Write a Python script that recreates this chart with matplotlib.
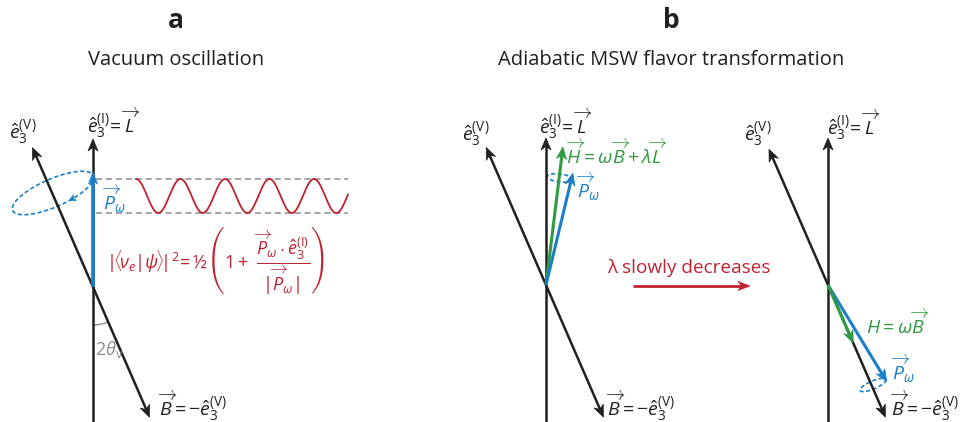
import numpy as np
import matplotlib

matplotlib.use("Agg")
import matplotlib.pyplot as plt
from matplotlib.patches import Polygon

plt.rcParams["font.family"] = ["Open Sans", "DejaVu Sans"]
plt.rcParams["mathtext.fontset"] = "custom"
plt.rcParams["mathtext.rm"] = "Open Sans"
plt.rcParams["mathtext.it"] = "Open Sans:italic"
plt.rcParams["mathtext.bf"] = "Open Sans:bold"

BLACK = "#231f20"
BLUE = "#1a7fc8"
RED = "#c0222f"
GREEN = "#2f9a42"
GRAY = "#8c8c8c"

# vector geometry, angles in degrees clockwise from "up"
mixing_angle = 23.5                 # 2 theta_v between e3(I) and e3(V)
L_len = [148, 147, 147]
e3V_len = [152, 150, 148]
B_len = [142, 144, 144]
H_angle = [None, 7.0, 180 - mixing_angle]
H_len = [None, 139, 63]
P_angle = [0.0, 13.5, 148.7]
P_len = [115, 115, 113]

# vacuum oscillation trace (cos^2 swing of P_w projection)
osc_x_start, osc_x_end = 136, 348
osc_period = 44.5

fig = plt.figure(figsize=(9.71, 4.22), dpi=100)
ax = fig.add_axes([0, 0, 1, 1])
ax.set_xlim(0, 971)
ax.set_ylim(422, 0)
ax.axis("off")


def direction(angle):
    a = np.radians(angle)
    return np.array([np.sin(a), -np.cos(a)])


def arrow(p0, p1, color, lw=1.8, hl=12, hw=5):
    p0, p1 = np.asarray(p0, float), np.asarray(p1, float)
    u = (p1 - p0) / np.hypot(*(p1 - p0))
    n = np.array([-u[1], u[0]])
    back = p1 - u * hl
    notch = p1 - u * hl * 0.7
    ax.plot([p0[0], notch[0]], [p0[1], notch[1]], color=color, lw=lw,
            solid_capstyle="butt", zorder=3)
    ax.add_patch(Polygon([p1, back + n * hw, notch, back - n * hw], closed=True,
                         fc=color, ec=color, lw=0.5, zorder=3))


def ring(c, a, b, tilt, color, head_at=None):
    t = np.linspace(0, 2 * np.pi, 200)
    tr = np.radians(tilt)
    u = np.array([np.cos(tr), -np.sin(tr)])
    v = np.array([np.sin(tr), np.cos(tr)])
    pts = c[None, :] + np.outer(a * np.cos(t), u) + np.outer(b * np.sin(t), v)
    ax.plot(pts[:, 0], pts[:, 1], color=color, lw=1.2, ls=(0, (2.5, 1.5)), zorder=2)
    if head_at is not None:
        th = np.radians(head_at)
        p = c + a * np.cos(th) * u + b * np.sin(th) * v
        d = -a * np.sin(th) * u + b * np.cos(th) * v
        d = d / np.hypot(*d)
        arrow(p - d * 8, p, color, lw=0, hl=7, hw=3.2)


def axes_set(origin, k):
    o = np.asarray(origin, float)
    ax.plot([o[0], o[0]], [422, o[1]], color=BLACK, lw=1.8, zorder=3)
    arrow(o, o + direction(0) * L_len[k], BLACK)
    arrow(o, o + direction(-mixing_angle) * e3V_len[k], BLACK)
    arrow(o, o + direction(180 - mixing_angle) * B_len[k], BLACK)
    return o


e3V_lab = r"$\hat{e}_3^{(\mathrm{V})}$"
e3I_lab = r"$\hat{e}_3^{(\mathrm{I})}\!=\overrightarrow{L}$"
B_lab = r"$\overrightarrow{B}=-\hat{e}_3^{(\mathrm{V})}$"
P_lab = r"$\overrightarrow{P}_\omega$"
fs = 14

# ---- panel a ----
oa = axes_set((93, 287), 0)
arrow(oa, oa + direction(P_angle[0]) * P_len[0], BLUE, lw=2.6, hl=12, hw=4.5)
ring(np.array([53.0, 193.0]), 44, 14, mixing_angle, BLUE, head_at=75)
for yy in (179, 213):
    ax.plot([96, 348], [yy, yy], color=GRAY, lw=1.1, ls=(0, (4, 2.5)), zorder=1)
xs = np.linspace(osc_x_start, osc_x_end, 400)
ax.plot(xs, 196 - 17 * np.cos(2 * np.pi * (xs - osc_x_start) / osc_period),
        color=RED, lw=1.3, zorder=2)
arc = np.radians(np.linspace(180 - mixing_angle, 180, 30))
ax.plot(oa[0] + 38 * np.sin(arc), oa[1] - 38 * np.cos(arc), color=GRAY, lw=1)
ax.text(95, 350, r"$2\theta_\mathrm{v}$", color=GRAY, fontsize=13, va="center")
ax.text(9, 133, e3V_lab, fontsize=fs, va="center", color=BLACK)
ax.text(87, 123, e3I_lab, fontsize=fs, va="center", color=BLACK)
ax.text(102, 199, P_lab, fontsize=fs, va="center", color=BLUE)
ax.text(158, 406, B_lab, fontsize=fs, va="center", color=BLACK)
ax.text(106, 261, r"$|\!\langle\!\nu_e|\psi\!\rangle\!|^2\!=$½"
        r"$\left(1+\ \dfrac{\overrightarrow{P}_\omega\cdot\hat{e}_3^{(\mathrm{I})}}"
        r"{|\overrightarrow{P}_\omega|}\right)$",
        fontsize=13, va="center", color=RED)

# ---- panel b, start ----
ob = axes_set((546, 285), 1)
arrow(ob, ob + direction(H_angle[1]) * H_len[1], GREEN, lw=2.2)
arrow(ob, ob + direction(P_angle[1]) * P_len[1], BLUE, lw=2.2)
ring(np.array([560.0, 178.0]), 13, 4, -7, BLUE)
ax.text(462, 135, e3V_lab, fontsize=fs, va="center", color=BLACK)
ax.text(539, 124, e3I_lab, fontsize=fs, va="center", color=BLACK)
ax.text(566, 153, r"$\overrightarrow{H}=\omega\overrightarrow{B}+\lambda\overrightarrow{L}$",
        fontsize=fs, va="center", color=GREEN)
ax.text(576, 187, P_lab, fontsize=fs, va="center", color=BLUE)
ax.text(606, 406, B_lab, fontsize=fs, va="center", color=BLACK)

ax.text(689, 268, "λ slowly decreases", fontsize=13.7, ha="center", va="center", color=RED)
arrow((633, 286), (750, 286), RED, lw=2.0, hl=12, hw=4.5)

# ---- panel b, end ----
oc = axes_set((828, 285), 2)
ring(np.array([873.0, 385.0]), 14, 4, mixing_angle, BLUE)
arrow(oc, oc + direction(P_angle[2]) * P_len[2], BLUE, lw=2.2)
arrow(oc, oc + direction(H_angle[2]) * H_len[2], GREEN, lw=2.2)
ax.text(744, 135, e3V_lab, fontsize=fs, va="center", color=BLACK)
ax.text(827, 125, e3I_lab, fontsize=fs, va="center", color=BLACK)
ax.text(866, 323, r"$H=\omega\overrightarrow{B}$", fontsize=fs, va="center", color=GREEN)
ax.text(891, 369, P_lab, fontsize=fs, va="center", color=BLUE)
ax.text(890, 406, B_lab, fontsize=fs, va="center", color=BLACK)

# ---- titles ----
ax.text(176, 21, "a", fontsize=19, fontweight="bold", ha="center", va="center", color=BLACK)
ax.text(176, 60, "Vacuum oscillation", fontsize=14.5, ha="center", va="center", color=BLACK)
ax.text(671, 21, "b", fontsize=19, fontweight="bold", ha="center", va="center", color=BLACK)
ax.text(671, 60, "Adiabatic MSW flavor transformation", fontsize=14.5, ha="center",
        va="center", color=BLACK)

fig.savefig("out.png", dpi=100)
